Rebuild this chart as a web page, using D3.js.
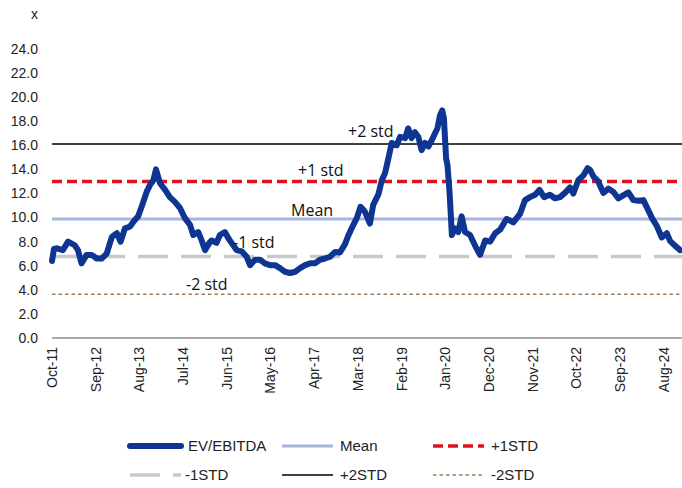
<!DOCTYPE html>
<html>
<head>
<meta charset="utf-8">
<script src="https://cdn.jsdelivr.net/npm/d3@7"></script>
<style>
  body { margin: 0; background: #fff; }
  text { font-family: "Liberation Sans", Arial, sans-serif; fill: #222; }
  .note { font-family: "Open Sans", sans-serif; font-size: 16px; fill: #111; }
</style>
</head>
<body>
<svg id="chart"></svg>
<script>
var dates = [
  "2011-10-01","2011-10-16","2011-11-08","2011-12-23","2012-02-01","2012-03-24","2012-04-17","2012-05-14",
  "2012-06-22","2012-08-01","2012-09-08","2012-10-16","2012-11-23","2013-01-02","2013-02-09","2013-03-10",
  "2013-04-12","2013-05-20","2013-06-27","2013-07-22","2013-08-18","2013-09-26","2013-10-21","2013-11-16",
  "2013-12-06","2014-01-06","2014-02-14","2014-03-22","2014-04-30","2014-06-08","2014-07-16","2014-08-24",
  "2014-09-18","2014-10-26","2014-11-21","2014-12-17","2015-01-19","2015-02-06","2015-03-15","2015-04-10",
  "2015-05-18","2015-06-13","2015-07-08","2015-08-16","2015-09-24","2015-11-01","2015-11-27","2016-01-04",
  "2016-02-12","2016-03-20","2016-04-28","2016-06-06","2016-07-13","2016-08-21","2016-09-29","2016-11-07",
  "2016-12-15","2017-01-22","2017-03-01","2017-04-07","2017-05-16","2017-06-23","2017-08-01","2017-09-09",
  "2017-10-16","2017-11-24","2017-12-19","2018-01-27","2018-02-22","2018-03-23","2018-04-25","2018-06-03",
  "2018-06-28","2018-08-06","2018-09-02","2018-09-27","2018-10-22","2018-11-17","2018-12-25","2019-01-20",
  "2019-02-28","2019-03-23","2019-04-18","2019-05-13","2019-06-09","2019-07-04","2019-07-30","2019-08-25",
  "2019-09-19","2019-10-15","2019-11-02","2019-11-22","2019-12-09","2019-12-22","2020-01-08","2020-01-18",
  "2020-02-03","2020-02-13","2020-02-21","2020-03-16","2020-04-10","2020-05-06","2020-06-01","2020-07-09",
  "2020-08-16","2020-09-24","2020-11-02","2020-12-10","2021-01-18","2021-02-25","2021-04-16","2021-06-06",
  "2021-07-27","2021-09-04","2021-10-12","2021-11-20","2021-12-24","2022-01-28","2022-03-13","2022-04-21",
  "2022-05-30","2022-07-07","2022-08-14","2022-09-09","2022-10-17","2022-11-25","2022-12-27","2023-01-16",
  "2023-02-11","2023-03-19","2023-04-27","2023-06-04","2023-07-12","2023-08-19","2023-09-27","2023-11-05",
  "2023-12-13","2024-01-20","2024-02-28","2024-04-06","2024-05-02","2024-06-10","2024-07-18","2024-08-25",
  "2024-09-20","2024-10-29","2024-12-06"
];
var evEbitda = [
  6.4,7.4,7.45,7.3,8.0,7.7,7.3,6.2,
  6.9,6.9,6.6,6.6,7.0,8.4,8.7,8.0,
  9.1,9.25,9.8,10.1,10.9,12.15,12.7,13.1,
  14.0,12.85,12.3,11.7,11.3,10.8,9.95,9.4,
  8.55,8.8,8.1,7.3,7.9,8.1,7.9,8.55,
  8.8,8.3,7.9,7.3,7.2,6.75,6.05,6.5,
  6.5,6.2,6.05,6.05,5.8,5.5,5.4,5.5,
  5.8,6.05,6.2,6.2,6.5,6.6,6.75,7.15,
  7.1,7.8,8.5,9.4,9.95,10.9,10.5,9.5,
  11.05,11.9,13.1,13.7,14.9,16.2,16.0,16.7,
  16.6,17.4,16.6,17.1,16.7,15.6,16.2,15.9,
  16.4,17.0,17.4,18.5,18.9,18.25,14.9,14.4,
  12.15,10.2,8.55,9.1,8.8,10.1,8.8,8.55,
  7.7,6.9,8.1,8.0,8.7,9.0,9.9,9.6,
  10.3,11.45,11.7,11.9,12.3,11.7,11.9,11.6,
  11.7,12.05,12.5,12.0,13.1,13.5,14.1,13.95,
  13.4,13.0,12.05,12.4,12.15,11.6,11.85,12.1,
  11.45,11.4,11.45,10.6,10.0,9.3,8.35,8.7,
  8.05,7.65,7.3
];

var levelNames = ["Mean", "+1STD", "-1STD", "+2STD", "-2STD"];
var levelValues = [9.88, 13.0, 6.76, 16.12, 3.64];
var noteTexts = ["Mean", "+1 std", "-1 std", "+2 std", "-2 std"];

var tickLabels = ["Oct-11","Sep-12","Aug-13","Jul-14","Jun-15","May-16","Apr-17","Mar-18",
                  "Feb-19","Jan-20","Dec-20","Nov-21","Oct-22","Sep-23","Aug-24"];
var yTicks = [0, 2, 4, 6, 8, 10, 12, 14, 16, 18, 20, 22, 24];

var margin = { top: 49, right: 0, bottom: 150, left: 52 },
    width = 682 - margin.left - margin.right,
    height = 488 - margin.top - margin.bottom;

var svg = d3.select("#chart")
    .attr("width", 682)
    .attr("height", 488);

var g = svg.append("g")
    .attr("transform", "translate(" + margin.left + "," + margin.top + ")");

var parseDate = d3.timeParse("%Y-%m-%d");
var parseTick = d3.timeParse("%b-%y");

var data = dates.map(function(d, i) {
    return { date: parseDate(d), value: evEbitda[i] };
});

var x = d3.scaleTime()
    .domain([new Date(2011, 9, 1), new Date(2024, 11, 20)])
    .range([0, width]);

var y = d3.scaleLinear()
    .domain([0, 24])
    .range([height, 0]);

// line styles for the reference levels
var styles = {
    "Mean":  { color: "#a9b6de", w: 3,   dash: null },
    "+1STD": { color: "#e3101b", w: 3.5, dash: "10,5" },
    "-1STD": { color: "#c9c9c9", w: 3.5, dash: "30,13" },
    "+2STD": { color: "#000000", w: 1.5, dash: null },
    "-2STD": { color: "#a07c5c", w: 1.5, dash: "3.5,3" }
};

// y labels
g.append("g")
    .selectAll("text")
    .data(yTicks)
    .enter().append("text")
    .attr("x", -14)
    .attr("y", function(d) { return y(d); })
    .attr("dy", "0.35em")
    .attr("text-anchor", "end")
    .style("font-size", "14px")
    .text(function(d) { return d3.format(".1f")(d); });

g.append("text")
    .attr("x", -21)
    .attr("y", -30)
    .style("font-size", "14px")
    .text("x");

// zero axis
g.append("line")
    .attr("x1", 0).attr("x2", width)
    .attr("y1", y(0)).attr("y2", y(0))
    .attr("stroke", "#8c8c8c")
    .attr("stroke-width", 1.5);

// x labels
g.append("g")
    .selectAll("text")
    .data(tickLabels)
    .enter().append("text")
    .attr("transform", function(d) {
        return "translate(" + x(parseTick(d)) + "," + (y(0) + 9) + ") rotate(-90)";
    })
    .attr("dy", "0.35em")
    .attr("text-anchor", "end")
    .style("font-size", "14px")
    .text(function(d) { return d; });

// reference levels
g.append("g")
    .selectAll("line")
    .data(levelNames)
    .enter().append("line")
    .attr("x1", 0).attr("x2", width)
    .attr("y1", function(d, i) { return y(levelValues[i]); })
    .attr("y2", function(d, i) { return y(levelValues[i]); })
    .attr("stroke", function(d) { return styles[d].color; })
    .attr("stroke-width", function(d) { return styles[d].w; })
    .attr("stroke-dasharray", function(d) { return styles[d].dash; });

var line = d3.line()
    .x(function(d) { return x(d.date); })
    .y(function(d) { return y(d.value); });

g.append("path")
    .datum(data)
    .attr("d", line)
    .attr("fill", "none")
    .attr("stroke", "#0e3592")
    .attr("stroke-width", 6)
    .attr("stroke-linejoin", "round")
    .attr("stroke-linecap", "round");

// notes on the levels
var noteX = [239, 246, 181, 296, 134];
var noteDy = [-2.6, -5, -8.7, -6.5, -4.3];
g.append("g")
    .selectAll("text")
    .data(noteTexts)
    .enter().append("text")
    .attr("class", "note")
    .attr("x", function(d, i) { return noteX[i]; })
    .attr("y", function(d, i) { return y(levelValues[i]) + noteDy[i]; })
    .text(function(d) { return d; });

// legend
var legendNames = ["EV/EBITDA", "Mean", "+1STD", "-1STD", "+2STD", "-2STD"];
var legend = svg.append("g")
    .selectAll("g")
    .data(legendNames)
    .enter().append("g")
    .attr("transform", function(d, i) {
        return "translate(" + [130, 282, 433][i % 3] + "," + (i < 3 ? 446 : 475) + ")";
    });

legend.append("line")
    .attr("x1", 0).attr("x2", 51)
    .attr("stroke", function(d) { return d == "EV/EBITDA" ? "#0e3592" : styles[d].color; })
    .attr("stroke-width", function(d) { return d == "EV/EBITDA" ? 6 : styles[d].w; })
    .attr("stroke-dasharray", function(d) { return d == "EV/EBITDA" ? null : styles[d].dash; })
    .attr("stroke-linecap", function(d) { return d == "EV/EBITDA" ? "round" : "butt"; });

legend.append("text")
    .attr("x", function(d) { return d == "-1STD" ? 55 : 58; })
    .attr("dy", "0.35em")
    .style("font-size", "15px")
    .text(function(d) { return d; });
</script>
</body>
</html>
